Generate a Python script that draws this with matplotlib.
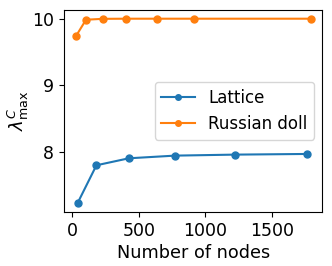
import matplotlib
matplotlib.use("Agg")
import matplotlib.pyplot as plt

lattice_nodes = [43, 183, 426, 772, 1218, 1762]
lattice_vals = [7.237, 7.80, 7.905, 7.945, 7.96, 7.97]
doll_nodes = [28, 105, 231, 406, 634, 913, 1788]
doll_vals = [9.733, 9.985, 9.998, 10.0, 10.0, 10.0, 10.0]

plt.rcParams['font.size'] = 12
fig = plt.figure(figsize=(3.32, 2.66), dpi=100)
ax = fig.add_axes([64/332, 1-212/266, (322.3-64)/332, (212-9.5)/266])
ax.plot(lattice_nodes, lattice_vals, marker='o', markersize=5, label='Lattice')
ax.plot(doll_nodes, doll_vals, marker='o', markersize=5, label='Russian doll')
ax.set_xlabel('Number of nodes', fontsize=12.7, labelpad=3)
ax.set_ylabel(r'$\lambda^{C}_{\max}$', fontsize=13, labelpad=1)
ax.set_xticks([0, 500, 1000, 1500])
ax.set_yticks([8, 9, 10])
ax.tick_params(labelsize=12.5)
ax.legend(loc='center right', markerscale=0.8)
fig.savefig('out.png', dpi=100)
